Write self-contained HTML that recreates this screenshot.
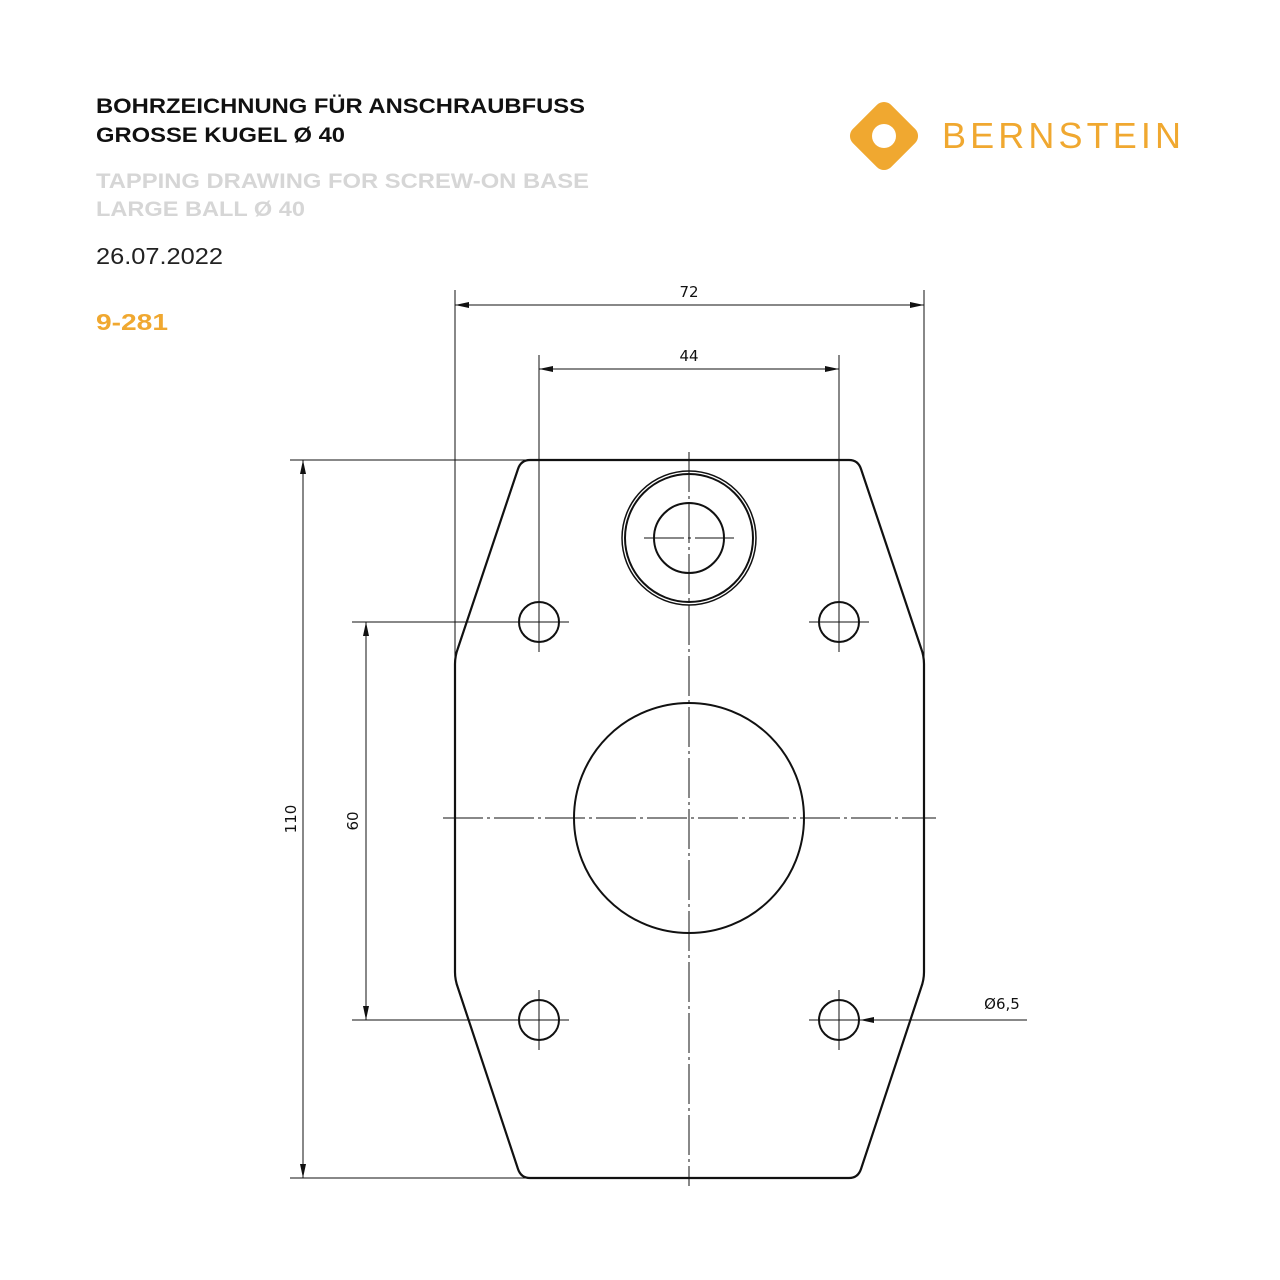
<!DOCTYPE html>
<html><head><meta charset="utf-8"><style>html,body{margin:0;padding:0;background:#fff}svg{display:block}</style></head>
<body>
<svg width="1280" height="1280" viewBox="0 0 1280 1280" xmlns="http://www.w3.org/2000/svg" font-family="Liberation Sans, sans-serif">
<rect width="1280" height="1280" fill="#fff"/>
<g font-weight="bold" font-size="21">
<text x="96" y="113" fill="#111" textLength="489" lengthAdjust="spacingAndGlyphs">BOHRZEICHNUNG FÜR ANSCHRAUBFUSS</text>
<text x="96" y="142" fill="#111" textLength="249" lengthAdjust="spacingAndGlyphs">GROSSE KUGEL Ø 40</text>
<text x="96" y="188" fill="#d6d6d6" textLength="493" lengthAdjust="spacingAndGlyphs">TAPPING DRAWING FOR SCREW-ON BASE</text>
<text x="96" y="216" fill="#d6d6d6" textLength="209" lengthAdjust="spacingAndGlyphs">LARGE BALL Ø 40</text>
<text x="96" y="330" fill="#f0a830" font-size="23" textLength="72" lengthAdjust="spacingAndGlyphs">9-281</text>
</g>
<text x="96" y="264" fill="#222" font-size="23" textLength="127" lengthAdjust="spacingAndGlyphs">26.07.2022</text>
<!-- logo -->
<rect x="857" y="109" width="54" height="54" rx="10" fill="#f0a830" transform="rotate(45 884 136)"/>
<circle cx="884" cy="136" r="12" fill="#fff"/>
<text x="942" y="148" fill="#f0a830" font-size="36" letter-spacing="4" textLength="243" lengthAdjust="spacing">BERNSTEIN</text>

<g stroke="#111" fill="none">
<path d="M530 460 L849 460 Q858 460 861 469 L921 648 Q924 656 924 664 L924 972 Q924 980 921 988 L861 1169 Q858 1178 849 1178 L530 1178 Q521 1178 518 1169 L458 988 Q455 980 455 972 L455 664 Q455 656 458 648 L518 469 Q521 460 530 460 Z" stroke-width="2.2"/>
<circle cx="689" cy="538" r="64" stroke-width="2"/>
<circle cx="689" cy="538" r="67" stroke-width="1.5"/>
<circle cx="689" cy="538" r="35" stroke-width="2"/>
<circle cx="689" cy="818" r="115" stroke-width="2"/>
<circle cx="539" cy="622" r="20" stroke-width="2"/>
<circle cx="839" cy="622" r="20" stroke-width="2"/>
<circle cx="539" cy="1020" r="20" stroke-width="2"/>
<circle cx="839" cy="1020" r="20" stroke-width="2"/>
<g stroke-width="1" stroke-dasharray="40 4 3 4">
<line x1="689" y1="452" x2="689" y2="1186"/>
<line x1="443" y1="818" x2="936" y2="818"/>
<line x1="644" y1="538" x2="734" y2="538"/>
</g>
<g stroke-width="1">
<line x1="509" y1="622" x2="569" y2="622"/><line x1="539" y1="592" x2="539" y2="652"/>
<line x1="809" y1="622" x2="869" y2="622"/><line x1="839" y1="592" x2="839" y2="652"/>
<line x1="509" y1="1020" x2="569" y2="1020"/><line x1="539" y1="990" x2="539" y2="1050"/>
<line x1="809" y1="1020" x2="869" y2="1020"/><line x1="839" y1="990" x2="839" y2="1050"/>
<line x1="455" y1="290" x2="455" y2="660"/>
<line x1="924" y1="290" x2="924" y2="660"/>
<line x1="539" y1="355" x2="539" y2="600"/>
<line x1="839" y1="355" x2="839" y2="600"/>
<line x1="290" y1="460" x2="530" y2="460"/>
<line x1="290" y1="1178" x2="530" y2="1178"/>
<line x1="352" y1="622" x2="517" y2="622"/>
<line x1="352" y1="1020" x2="517" y2="1020"/>
<line x1="455" y1="305" x2="924" y2="305"/>
<line x1="539" y1="369" x2="839" y2="369"/>
<line x1="303" y1="460" x2="303" y2="1178"/>
<line x1="366" y1="622" x2="366" y2="1020"/>
<line x1="860" y1="1020" x2="1027" y2="1020"/>
</g>
</g>
<g fill="#111">
<path d="M455 305 l14 -3 v6 z"/><path d="M924 305 l-14 -3 v6 z"/>
<path d="M539 369 l14 -3 v6 z"/><path d="M839 369 l-14 -3 v6 z"/>
<path d="M303 460 l-3 14 h6 z"/><path d="M303 1178 l-3 -14 h6 z"/>
<path d="M366 622 l-3 14 h6 z"/><path d="M366 1020 l-3 -14 h6 z"/>
<path d="M860 1020 l14 -3 v6 z"/>
</g>
<g font-family="DejaVu Sans, sans-serif" font-size="15" fill="#111">
<text x="689" y="297" text-anchor="middle">72</text>
<text x="689" y="361" text-anchor="middle">44</text>
<text transform="translate(296 819) rotate(-90)" text-anchor="middle">110</text>
<text transform="translate(358 821) rotate(-90)" text-anchor="middle">60</text>
<text x="1002" y="1009" text-anchor="middle">Ø6,5</text>
</g>
</svg>
</body></html>
